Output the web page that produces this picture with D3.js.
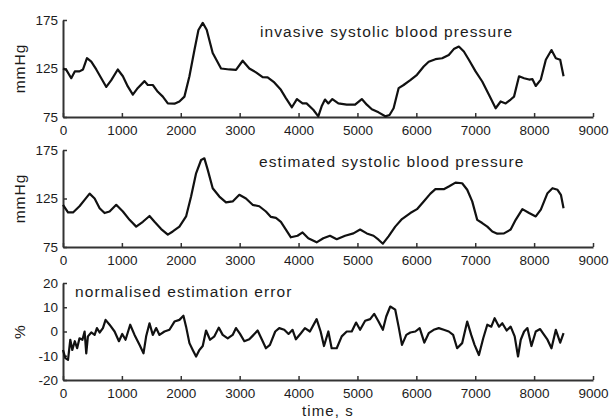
<!DOCTYPE html>
<html>
<head>
    <meta charset="utf-8">
    <title></title>
    <script src="https://cdn.jsdelivr.net/npm/d3@7"></script>
    <style>
        body { margin: 0; background: #fff; }
        text { font-family: "Liberation Sans", Arial, sans-serif; fill: #1c1c1c; }
    </style>
</head>
<body>
<div id='chart'></div>
<script type="text/javascript">
    // x ticks shared by all three panels
    var xTicks = [0, 1000, 2000, 3000, 4000, 5000, 6000, 7000, 8000, 9000]
    var bpTicks = [75, 125, 175]
    var errTicks = [-20, -10, 0, 10, 20]

    // invasive systolic blood pressure (s, mmHg)
    var invT = [0, 56, 140, 200, 280, 340, 407, 480, 565, 650, 735, 820, 930, 1017, 1100, 1186, 1271, 1384, 1440, 1525,
        1610, 1695, 1780, 1893, 1977, 2062, 2147, 2232, 2300, 2373, 2440, 2542, 2684, 2825, 2938, 3051, 3164, 3277, 3390, 3475,
        3588, 3700, 3785, 3887, 3972, 4068, 4136, 4250, 4335, 4392, 4449, 4506, 4574, 4676, 4818, 4960, 5074, 5159, 5244, 5358,
        5472, 5545, 5614, 5700, 5784, 5898, 6011, 6125, 6210, 6324, 6438, 6551, 6636, 6722, 6807, 6892, 7006, 7119, 7233, 7347,
        7432, 7517, 7602, 7659, 7744, 7830, 7915, 7972, 8028, 8114, 8199, 8295, 8369, 8443, 8500]
    var invBP = [125, 123.6, 115, 122, 122, 124, 135.6, 132, 124, 115, 106, 113, 124, 117, 106.5, 98, 105, 112, 108, 108,
        101, 96, 89, 88.7, 91, 96, 117, 144, 164.7, 172, 165, 141, 125, 124, 123.6, 133, 125, 121, 116, 115.8,
        110.6, 103, 94.5, 85, 93.5, 89, 89, 82.5, 75.7, 86, 93, 89, 93.5, 89, 87.7, 87.7, 93.5, 87.7, 83, 79.8,
        75.7, 77, 84, 104.8, 108, 113, 118.5, 127, 132, 134.6, 135.6, 139, 145, 147.6, 142.5, 134, 122, 111.6, 98, 84,
        91, 89, 93, 96, 117, 115, 113.6, 114, 107, 113.6, 134, 144, 135.6, 134, 117]

    // estimated systolic blood pressure (s, mmHg)
    var estT = [0, 85, 170, 280, 367, 452, 537, 622, 706, 791, 904, 1017, 1130, 1243, 1356, 1469, 1554, 1667, 1780, 1864,
        1977, 2090, 2175, 2260, 2345, 2401, 2458, 2542, 2655, 2768, 2881, 2994, 3107, 3220, 3333, 3446, 3531, 3616, 3700, 3785,
        3870, 3983, 4068, 4165, 4307, 4420, 4534, 4648, 4790, 4932, 5045, 5159, 5273, 5358, 5432, 5528, 5642, 5756, 5898, 6011,
        6125, 6239, 6324, 6466, 6551, 6665, 6778, 6864, 6949, 7034, 7119, 7205, 7290, 7375, 7489, 7602, 7687, 7801, 7915, 8028,
        8114, 8227, 8312, 8398, 8455, 8500]
    var estBP = [118.5, 110.6, 110.6, 117, 123.6, 130, 125, 115, 110, 111.6, 118.5, 111.6, 103, 96, 101, 107, 101, 93.5, 87.7, 91,
        96, 106.5, 127, 151, 164.7, 166.4, 154.5, 135.6, 127, 121, 122, 128.8, 125, 118.5, 117, 111.6, 106, 105, 101, 93,
        85, 86.6, 90, 84, 79.8, 84, 86.6, 83, 86.6, 89, 93, 89, 86.6, 82.5, 78.4, 86, 96, 103.8, 110, 114,
        122, 130, 134.6, 134.6, 137.3, 141.4, 140.7, 134, 122, 103, 99.7, 96, 91, 88.7, 89, 93, 103, 114, 110, 106.5,
        113.6, 130.5, 135.6, 134, 128.8, 115]

    // normalised estimation error (s, %)
    var errT = [0, 40, 85, 124, 158, 200, 240, 280, 330, 367, 395, 423, 480, 537, 576, 622, 678, 723, 791, 876,
        950, 1006, 1062, 1141, 1215, 1299, 1367, 1412, 1469, 1525, 1582, 1638, 1723, 1808, 1893, 1977, 2045, 2090, 2147, 2203,
        2260, 2316, 2373, 2429, 2497, 2571, 2645, 2712, 2797, 2881, 2938, 3006, 3079, 3164, 3220, 3305, 3379, 3446, 3514, 3604,
        3672, 3757, 3830, 3898, 3955, 4040, 4108, 4193, 4307, 4375, 4432, 4506, 4562, 4648, 4733, 4818, 4903, 4977, 5045, 5131,
        5216, 5284, 5358, 5432, 5489, 5557, 5642, 5699, 5756, 5830, 5898, 5983, 6057, 6136, 6210, 6295, 6381, 6466, 6551, 6625,
        6693, 6778, 6864, 6932, 6989, 7063, 7136, 7205, 7273, 7330, 7404, 7460, 7534, 7602, 7670, 7727, 7773, 7830, 7886, 7955,
        8028, 8102, 8170, 8227, 8295, 8369, 8443, 8500]
    var errPct = [-7.6, -11, -11.7, -3.4, -7.6, -4, -6.9, -2.8, -3.4, 0, -9, -2, -0.4, -1.4, 1.4, -0.4, 1.4, 4.8, 2.8, 0,
        -4, -1, -3.4, 2.8, -1.4, -5.5, -9, -2, 3.4, -1.4, 1.4, -1.4, 0, 0.7, 4.1, 4.8, 6.5, 2, -4.8, -7.6,
        -10.3, -7.6, -6, 0.4, -3.4, -2, 1.6, -1.4, -2.8, -1.4, 1.4, -1, -4, -3.2, -1.8, 0.4, -3.4, -6.9, -5.5, 0,
        1.4, 0.7, -1, 0.7, -3.2, -0.7, 1.4, 0, 5.1, 0, -6, 0, -6.9, -6.9, -2, 0, 0, 3.7, 0.7, 4.4,
        5.1, 7.3, 4.1, 0.7, 6.2, 10.3, 9, 2, -5.5, -1.4, -0.4, 0, 1.4, -4.6, -0.7, 0.7, 1.4, 0.7, 0, -1.4,
        -6.9, -4.8, 4.1, -1.4, -5.5, -9.7, -2.8, 2.8, 2, 5.5, 2, 3.4, 0.4, 2, -2, -10.3, -3.4, 0, 1.4, -6,
        0, 1, -1.4, -3.4, -6.9, 0.7, -4.6, -0.7]

    var W = 615, H = 419
    var left = 63, right = 593
    var svg = d3.select("#chart").append("svg")
        .attr("width", W)
        .attr("height", H)

    var x = d3.scaleLinear().domain([0, 9000]).range([left, right])
    var plain = function(d){ return String(d) }

    var panels = [
        {t: invT, v: invBP, ticks: bpTicks, top: 20, label: "mmHg", title: "invasive systolic blood pressure", tx: 260, ty: 37},
        {t: estT, v: estBP, ticks: bpTicks, top: 150, label: "mmHg", title: "estimated systolic blood pressure", tx: 259, ty: 167},
        {t: errT, v: errPct, ticks: errTicks, top: 283, label: "%", title: "normalised estimation error", tx: 75, ty: 297}
    ]
    var ph = 97

    panels.forEach(function(p){
        var y = d3.scaleLinear()
            .domain([p.ticks[0], p.ticks[p.ticks.length - 1]])
            .range([p.top + ph, p.top])

        var g = svg.append("g")

        g.append("g")
            .attr("transform", "translate(0," + (p.top + ph) + ")")
            .call(d3.axisBottom(x).tickValues(xTicks).tickFormat(plain).tickSize(-4).tickSizeOuter(0).tickPadding(8))
        g.append("g")
            .attr("transform", "translate(" + left + ",0)")
            .call(d3.axisLeft(y).tickValues(p.ticks).tickFormat(plain).tickSize(-4).tickSizeOuter(0).tickPadding(5))

        g.selectAll(".domain").attr("stroke", "#333").attr("stroke-width", 2)
        g.selectAll(".tick line").attr("stroke", "#333").attr("stroke-width", 1.5)
        g.selectAll(".tick text")
            .style("font-size", "13.5px")
            .style("font-family", "'Liberation Sans', Arial, sans-serif")
            .attr("fill", "#1c1c1c")

        var pts = p.t.map(function(d, i){ return [d, p.v[i]] })
        g.append("path")
            .datum(pts)
            .attr("fill", "none")
            .attr("stroke", "#111")
            .attr("stroke-width", 2.2)
            .attr("stroke-linejoin", "round")
            .attr("d", d3.line().x(function(d){ return x(d[0]) }).y(function(d){ return y(d[1]) }))

        g.append("text")
            .attr("x", p.tx)
            .attr("y", p.ty)
            .style("font-size", "15.5px")
            .style("letter-spacing", "1.1px")
            .text(p.title)

        g.append("text")
            .attr("transform", "translate(20," + (p.top + ph / 2) + ") rotate(-90)")
            .attr("text-anchor", "middle")
            .attr("dy", "0.35em")
            .style("font-size", "15.5px")
            .style("letter-spacing", "1px")
            .text(p.label)
    })

    svg.append("text")
        .attr("x", (left + right) / 2)
        .attr("y", 416)
        .attr("text-anchor", "middle")
        .style("font-size", "15px")
        .style("letter-spacing", "1.1px")
        .text("time, s")
</script>
</body>
</html>
